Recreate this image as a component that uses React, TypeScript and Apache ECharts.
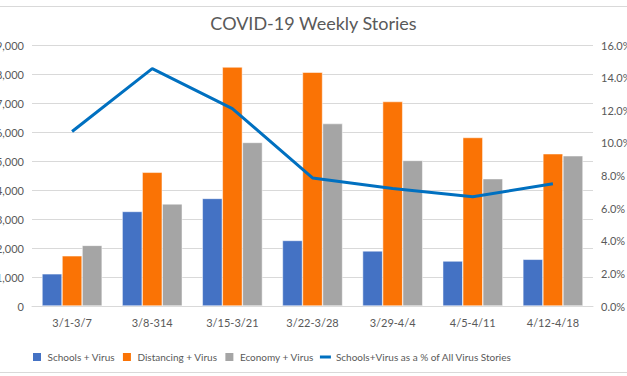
import React, { useEffect, useRef } from "react";
import * as echarts from "echarts";

const categories = ["3/1-3/7", "3/8-314", "3/15-3/21", "3/22-3/28", "3/29-4/4", "4/5-4/11", "4/12-4/18"];
const schools = [1110, 3260, 3710, 2260, 1900, 1550, 1610];
const distancing = [1730, 4610, 8240, 8060, 7050, 5810, 5250];
const economy = [2090, 3520, 5640, 6290, 5020, 4390, 5180];
const schoolsPct = [10.7, 14.55, 12.1, 7.85, 7.2, 6.7, 7.5];

const FONT = "Lato";
const TXT = "#595959";

export default function App() {
  const ref = useRef<HTMLDivElement>(null);
  useEffect(() => {
    document.body.style.margin = "0";
    const chart = echarts.init(ref.current!, null, { renderer: "svg" });
    const sq = "path://M0,0h10v10h-10z";
    chart.setOption({
      animation: false,
      backgroundColor: "#fff",
      textStyle: { fontFamily: FONT },
      title: {
        text: "COVID-19 Weekly Stories",
        left: "center",
        top: 9,
        textStyle: { fontFamily: FONT, fontSize: 18, fontWeight: "normal", color: TXT },
      },
      graphic: [
        { type: "line", shape: { x1: 0, y1: 6.5, x2: 627, y2: 6.5 }, style: { stroke: "#D9D9D9", lineWidth: 1 } },
        { type: "line", shape: { x1: 0, y1: 372.5, x2: 627, y2: 372.5 }, style: { stroke: "#D9D9D9", lineWidth: 1 } },
      ],
      legend: {
        top: 346,
        left: 26,
        itemWidth: 11,
        itemHeight: 10,
        itemGap: 6,
        textStyle: { fontFamily: FONT, fontSize: 10, color: TXT },
        data: [
          { name: "Schools + Virus", icon: sq },
          { name: "Distancing + Virus", icon: sq },
          { name: "Economy + Virus", icon: sq },
          { name: "Schools+Virus as a % of All Virus Stories", icon: "path://M0,0h11v3h-11z" },
        ],
      },
      grid: { left: 32, right: 34, top: 45, bottom: 70, outerBoundsMode: "none", containLabel: false },
      xAxis: {
        type: "category",
        data: categories,
        axisLine: { lineStyle: { color: "#D9D9D9" } },
        axisTick: { show: false },
        axisLabel: { fontFamily: FONT, fontSize: 11, color: TXT, margin: 11 },
      },
      yAxis: [
        {
          type: "value",
          min: 0,
          max: 9000,
          interval: 1000,
          axisLine: { show: false },
          axisTick: { show: false },
          splitLine: { lineStyle: { color: "#D9D9D9" } },
          axisLabel: {
            fontFamily: FONT,
            fontSize: 11,
            color: TXT,
            margin: 8,
            formatter: (v: number) => v.toLocaleString("en-US"),
          },
        },
        {
          type: "value",
          min: 0,
          max: 16,
          interval: 2,
          position: "right",
          axisLine: { show: false },
          axisTick: { show: false },
          splitLine: { show: false },
          axisLabel: {
            fontFamily: FONT,
            fontSize: 11,
            color: TXT,
            margin: 8,
            formatter: (v: number) => v.toFixed(1) + "%",
          },
        },
      ],
      series: [
        {
          name: "Schools + Virus",
          type: "bar",
          data: schools,
          barGap: "0%",
          barCategoryGap: "25%",
          itemStyle: { color: "#4472C4", borderColor: "#fff", borderWidth: 0.5 },
        },
        {
          name: "Distancing + Virus",
          type: "bar",
          data: distancing,
          itemStyle: { color: "#FA7305", borderColor: "#fff", borderWidth: 0.5 },
        },
        {
          name: "Economy + Virus",
          type: "bar",
          data: economy,
          itemStyle: { color: "#A5A5A5", borderColor: "#fff", borderWidth: 0.5 },
        },
        {
          name: "Schools+Virus as a % of All Virus Stories",
          type: "line",
          yAxisIndex: 1,
          data: schoolsPct,
          symbol: "none",
          lineStyle: { color: "#0070C0", width: 3 },
          itemStyle: { color: "#0070C0" },
          z: 5,
        },
      ],
    });
    return () => chart.dispose();
  }, []);
  return <div ref={ref} style={{ width: 627, height: 376 }} />;
}
